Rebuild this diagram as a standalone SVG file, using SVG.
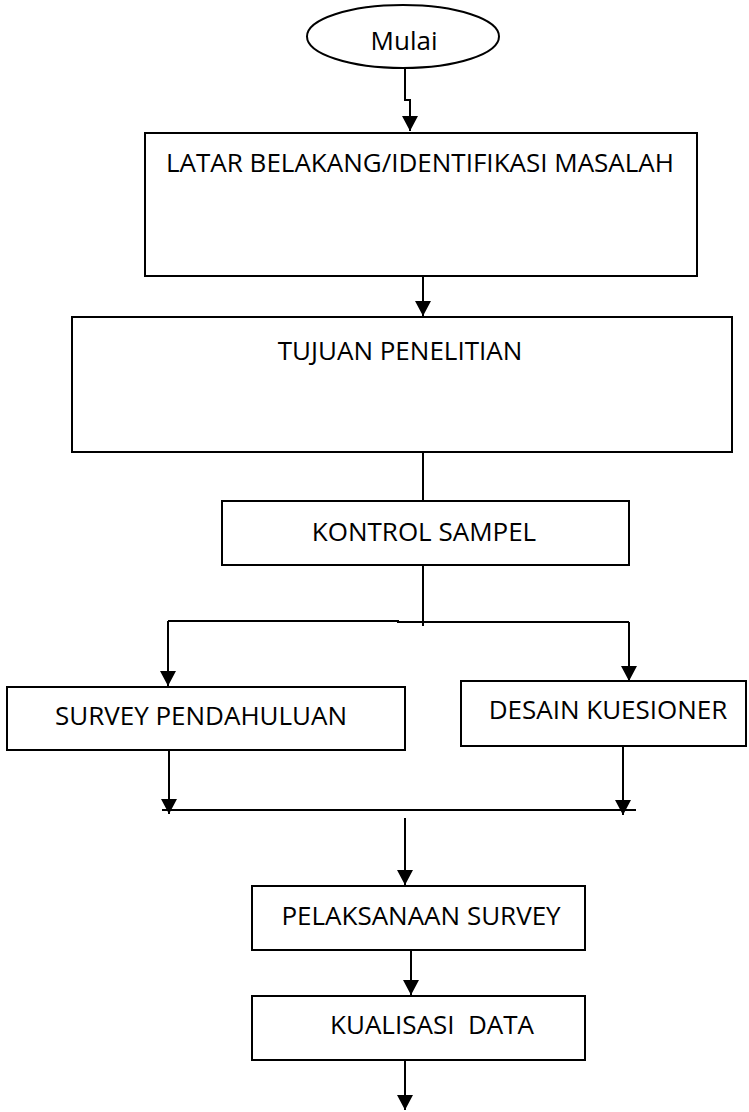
<svg xmlns="http://www.w3.org/2000/svg" width="749" height="1112" viewBox="0 0 749 1112">
<style>
.box{fill:#fff;stroke:#000;stroke-width:2}
.ln{fill:none;stroke:#000;stroke-width:2}
.t{font-family:"Open Sans","Liberation Sans",sans-serif;font-size:26px;fill:#000;text-anchor:middle;white-space:pre}
</style>
<defs>
<marker id="ah" markerWidth="17" markerHeight="17" refX="15" refY="8" orient="auto" markerUnits="userSpaceOnUse" overflow="visible">
<path d="M0,0 L15,8 L0,16 Z" fill="#000"/>
</marker>
</defs>
<rect width="749" height="1112" fill="#fff"/>
<g id="connectors">
<path class="ln" d="M405,68 V100 H410 V131" marker-end="url(#ah)"/>
<path class="ln" d="M423,276 V316" marker-end="url(#ah)"/>
<path class="ln" d="M423,452 V501"/>
<path class="ln" d="M416,501 H431" stroke-width="3"/>
<path class="ln" d="M423,565 V626"/>
<path class="ln" d="M168,621 H398 V622 H629"/>
<path class="ln" d="M168,621 V686" marker-end="url(#ah)"/>
<path class="ln" d="M629,622 V681" marker-end="url(#ah)"/>
<path class="ln" d="M169,746 V814" marker-end="url(#ah)"/>
<path class="ln" d="M623,746 V815" marker-end="url(#ah)"/>
<path class="ln" d="M162,810 H636"/>
<path class="ln" d="M405,818 V885" marker-end="url(#ah)"/>
<path class="ln" d="M411,950 V995" marker-end="url(#ah)"/>
<path class="ln" d="M405,1060 V1110" marker-end="url(#ah)"/>
</g>
<g id="mulai">
<ellipse class="box" cx="403" cy="36.5" rx="96" ry="31.5"/>
<text class="t" x="404" y="50">Mulai</text>
</g>
<g id="latar">
<rect class="box" x="145" y="133" width="552" height="143"/>
<text class="t" x="420" y="172">LATAR BELAKANG/IDENTIFIKASI MASALAH</text>
</g>
<g id="tujuan">
<rect class="box" x="72" y="317" width="660" height="135"/>
<text class="t" x="400" y="360">TUJUAN PENELITIAN</text>
</g>
<g id="kontrol">
<rect class="box" x="222" y="501" width="407" height="64"/>
<text class="t" x="424" y="541">KONTROL SAMPEL</text>
</g>
<g id="survey">
<rect class="box" x="7" y="687" width="398" height="63"/>
<text class="t" x="201" y="725">SURVEY PENDAHULUAN</text>
</g>
<g id="desain">
<rect class="box" x="461" y="681" width="285" height="65"/>
<text class="t" x="608" y="719">DESAIN KUESIONER</text>
</g>
<g id="pelaksanaan">
<rect class="box" x="252" y="886" width="333" height="64"/>
<text class="t" x="421" y="925">PELAKSANAAN SURVEY</text>
</g>
<g id="kualisasi">
<rect class="box" x="252" y="996" width="333" height="64"/>
<text class="t" x="432" y="1034">KUALISASI  DATA</text>
</g>
</svg>
